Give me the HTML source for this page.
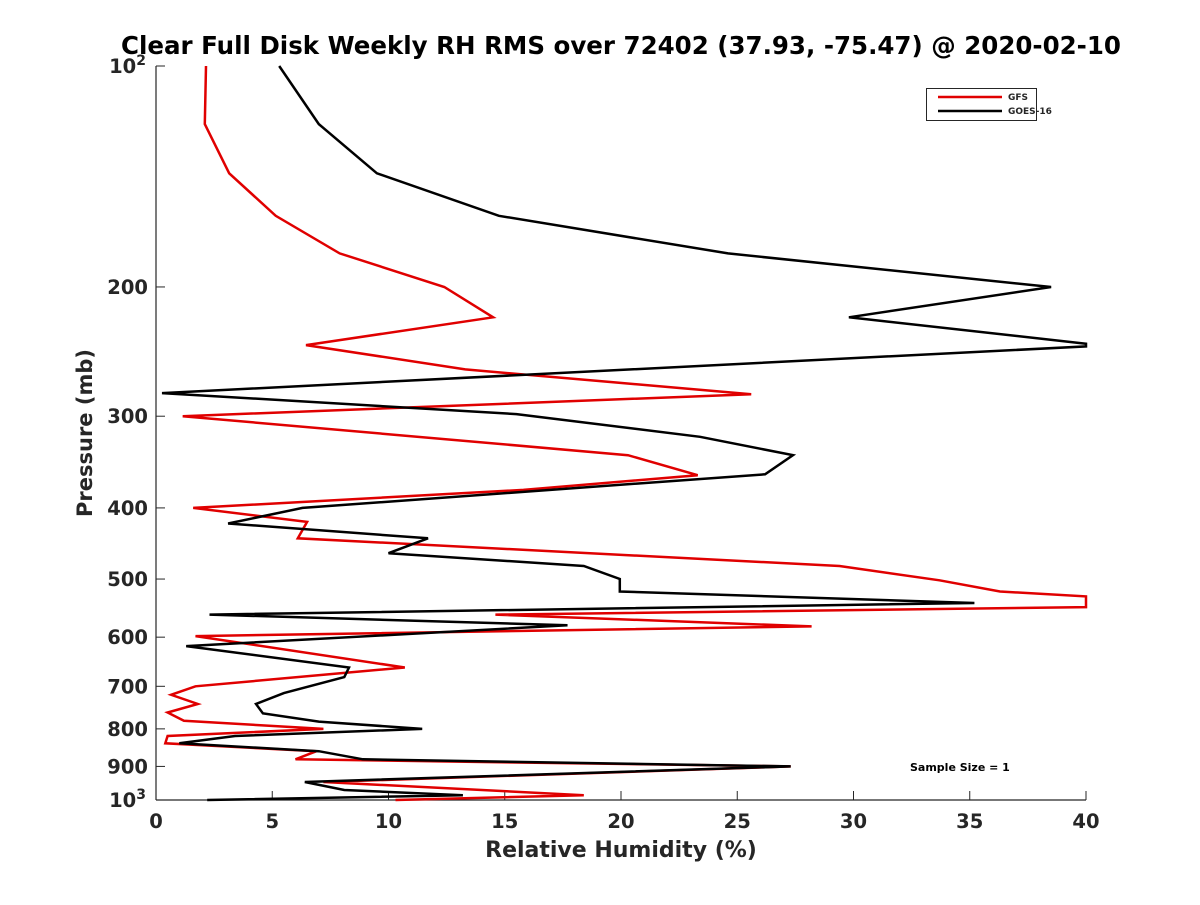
<!DOCTYPE html>
<html><head><meta charset="utf-8"><style>
body{margin:0;background:#fff;}
svg text{font-family:"DejaVu Sans","Liberation Sans",sans-serif;font-weight:bold;fill:#262626;}
</style></head><body>
<svg id="chart" width="1200" height="900" xmlns="http://www.w3.org/2000/svg">
<rect width="1200" height="900" fill="#fff"/>
<text x="621" y="54" font-size="24.5" text-anchor="middle" style="fill:#000">Clear Full Disk Weekly RH RMS over 72402 (37.93, -75.47) @ 2020-02-10</text>
<g id="axes"></g>
<g id="series"></g>
<text x="621" y="857" font-size="22" text-anchor="middle">Relative Humidity (%)</text>
<text transform="translate(92,433) rotate(-90)" font-size="21" text-anchor="middle">Pressure (mb)</text>
<g>
<rect x="926.5" y="88.5" width="110" height="32" fill="#fff" stroke="#262626" stroke-width="1"/>
<line x1="938" y1="97" x2="1002" y2="97" stroke="#e00000" stroke-width="2.5"/>
<text x="1008" y="100" font-size="9">GFS</text>
<line x1="938" y1="111" x2="1002" y2="111" stroke="#000" stroke-width="2.5"/>
<text x="1008" y="114" font-size="9">GOES-16</text>
</g>
<text x="910" y="771" font-size="11" style="fill:#000">Sample Size = 1</text>
</svg>
<script>
const xTicks=[0,5,10,15,20,25,30,35,40];
const yTicks=[100,200,300,400,500,600,700,800,900,1000];
const yTickLabels=["10²","200","300","400","500","600","700","800","900","10³"];
const gfsPressure=[100,120,140,160,180,200,220,240,259,280,300,339,361,378,400,418,440,480,502,520,528,546,559,580,598,660,700,719,740,760,780,800,818,837,858,880,900,945,985,1000];
const gfsValues=[2.15,2.1,3.15,5.15,7.9,12.4,14.5,6.45,13.3,25.6,1.15,20.3,23.3,15.8,1.6,6.5,6.1,29.4,33.7,36.3,40,40,14.6,28.2,1.7,10.7,1.7,0.65,1.8,0.5,1.2,7.2,0.5,0.4,6.9,6.0,27.3,7.2,18.4,10.3];
const goesPressure=[100,120,140,160,180,200,220,239,241,279,298,320,339,360,400,420,440,461,480,500,520,539,559,578,617,660,680,715,740,762,782,800,818,837,858,880,900,945,969,985,1000];
const goesValues=[5.3,7.0,9.5,14.75,24.6,38.5,29.8,40,40,0.26,15.5,23.4,27.4,26.2,6.3,3.1,11.7,10.0,18.4,19.95,19.95,35.2,2.3,17.7,1.3,8.3,8.1,5.5,4.3,4.6,7.0,11.45,3.4,1.0,7.0,8.9,27.3,6.4,8.1,13.2,2.2];
const X0=156,X1=1086,Y0=66,Y1=800;
function xs(v){return X0+(v-0)/(40-0)*(X1-X0);}
function ys(p){return Y0+(Math.log10(p)-2)*(Y1-Y0);}
const NS="http://www.w3.org/2000/svg";
const axes=document.getElementById('axes');
function mk(tag,attrs,parent){const e=document.createElementNS(NS,tag);for(const k in attrs)e.setAttribute(k,attrs[k]);parent.appendChild(e);return e;}
let a=mk('line',{x1:X0,y1:Y0,x2:X0,y2:Y1,stroke:'#262626','stroke-width':1.2},axes);


a=mk('line',{x1:X0,y1:Y1,x2:X1,y2:Y1,stroke:'#262626','stroke-width':1.2},axes);


xTicks.forEach(v=>{const x=xs(v);
 const t=mk('line',{x1:x,y1:Y1,x2:x,y2:Y1-9,stroke:'#262626','stroke-width':1},axes);
 
 
 const l=mk('text',{x:x,y:Y1+28,'font-size':19.5,'text-anchor':'middle'},axes);l.textContent=v;
 
 
});
yTicks.forEach((p,i)=>{const y=ys(p);
 const t=mk('line',{x1:X0,y1:y,x2:X0+9,y2:y,stroke:'#262626','stroke-width':1},axes);
 
 
 const l=mk('text',{x:X0-8,y:y+7,'font-size':19.5,'text-anchor':'end'},axes);
 const s=yTickLabels[i];
 if(s.endsWith('²')||s.endsWith('³')){l.textContent=s.slice(0,-1);const sp=mk('tspan',{dy:-8,'font-size':14},l);sp.textContent=s.endsWith('²')?'2':'3';l.setAttribute('x',X0-10);}
 else l.textContent=s;
 
 
});
const series=document.getElementById('series');
function line(ps,vs,color,name){
 const pts=ps.map((p,i)=>xs(vs[i]).toFixed(1)+','+ys(p).toFixed(1)).join(' ');
 const pl=mk('polyline',{points:pts,fill:'none',stroke:color,'stroke-width':2.5,'stroke-linejoin':'miter'},series);
 
 
}
line(gfsPressure,gfsValues,'#e00000','gfs-line');
line(goesPressure,goesValues,'#000','goes16-line');
</script>
</body></html>
